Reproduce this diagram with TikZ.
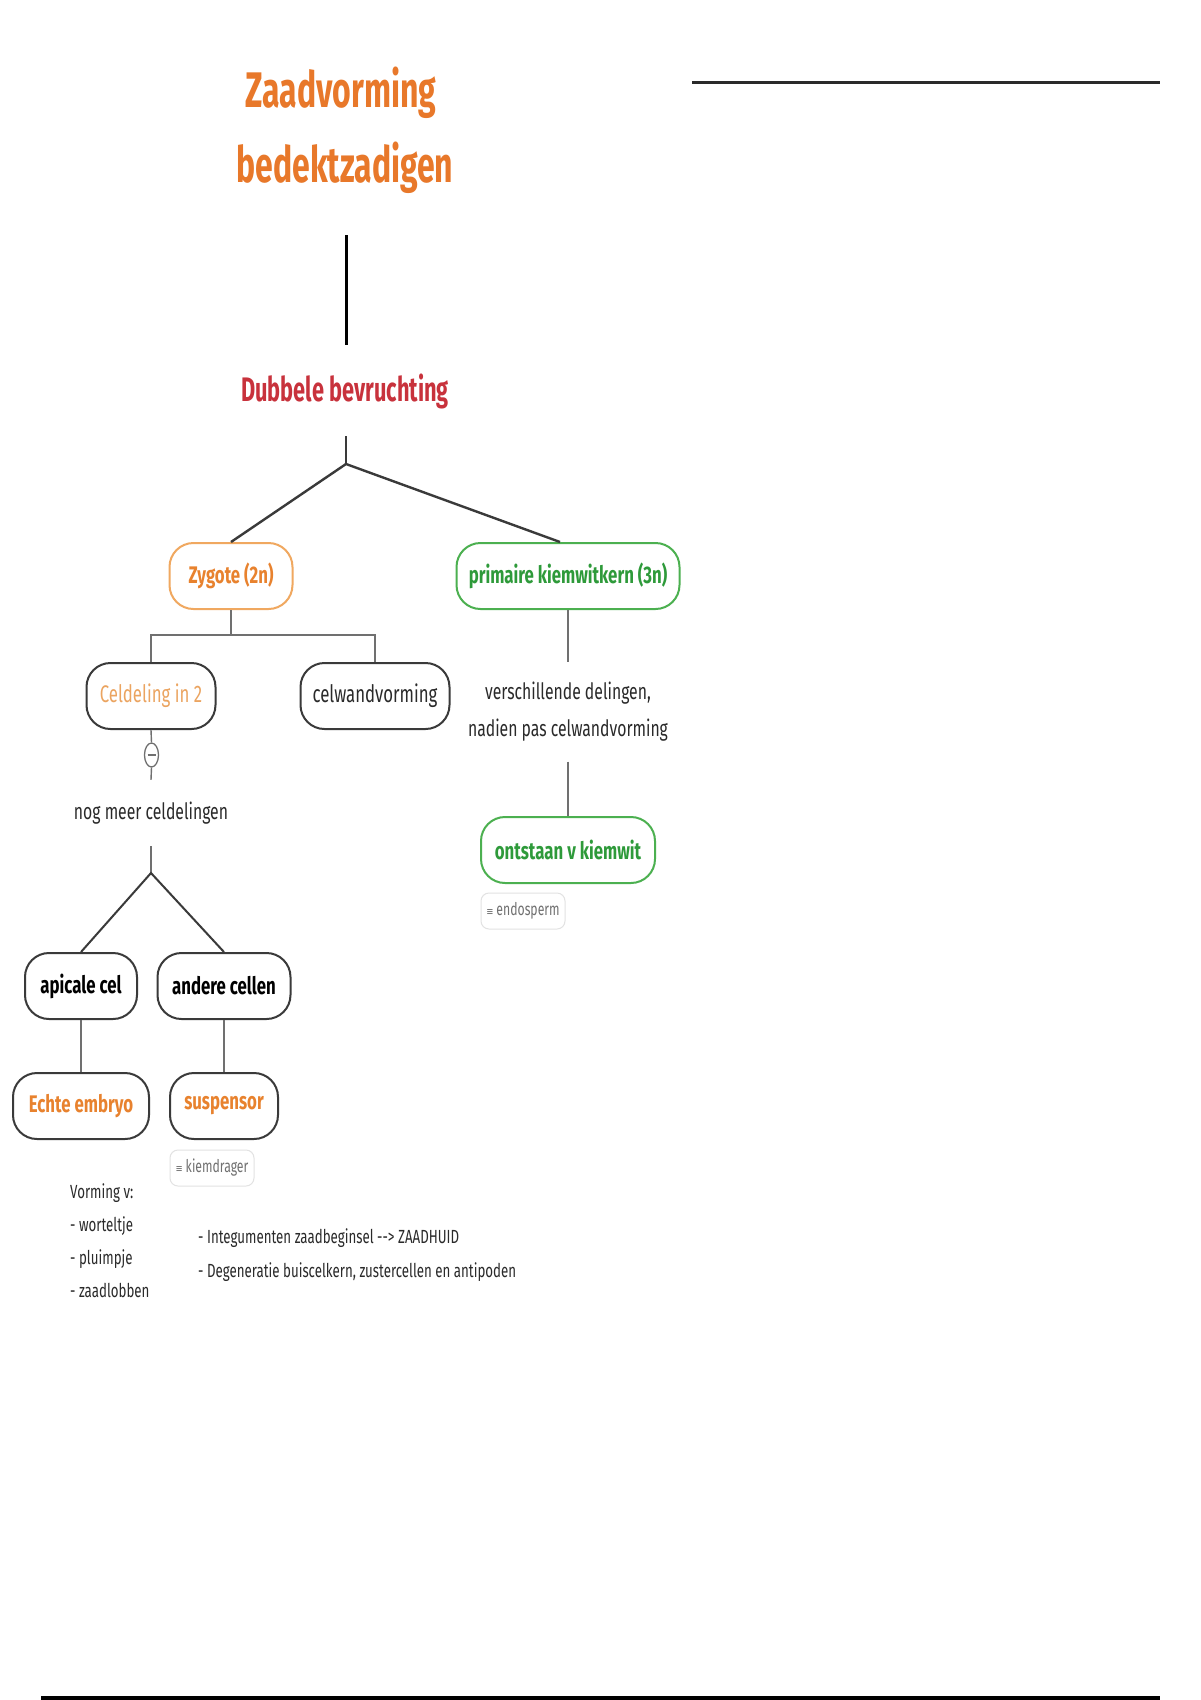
\documentclass[tikz,border=0pt]{standalone}
\usepackage{fontspec}
\setmainfont{Fira Sans}[FakeStretch=0.7]
\newfontfamily\ttlfont{Fira Sans}[FakeStretch=0.64]
\newfontfamily\djv{DejaVu Sans}[FakeStretch=0.78]
\usetikzlibrary{calc,shapes.geometric}
\definecolor{ttlorange}{HTML}{E8782A}
\definecolor{dubred}{HTML}{C8323C}
\definecolor{orgtext}{HTML}{E8822E}
\definecolor{orgborder}{HTML}{F0A860}
\definecolor{lightorg}{HTML}{EBA460}
\definecolor{grntext}{HTML}{2E9A3A}
\definecolor{grnborder}{HTML}{4CB050}
\definecolor{boxgray}{HTML}{3A3A3A}
\definecolor{linegray}{HTML}{707070}
\definecolor{txtdark}{HTML}{2A2A2A}
\definecolor{notegray}{HTML}{707070}
\definecolor{noteborder}{HTML}{E2E2E2}
\begin{document}
\begin{tikzpicture}[x=1pt,y=-1pt,
  box/.style={draw=boxgray, line width=2pt, rounded corners=24pt, minimum height=66pt, inner sep=0pt, text=txtdark, font=\fontsize{24}{28}\selectfont},
  orgbox/.style={box, draw=orgborder, text=orgtext, font=\fontsize{24}{28}\selectfont\bfseries},
  grnbox/.style={box, draw=grnborder, text=grntext, font=\fontsize{24}{28}\selectfont\bfseries},
  boldbox/.style={box, font=\fontsize{24}{28}\selectfont\bfseries},
  notebox/.style={draw=noteborder, line width=1pt, rounded corners=8pt, minimum height=36pt, inner sep=0pt, text=notegray, font=\fontsize{17.5}{20}\selectfont},
  plain/.style={inner sep=0pt, text=txtdark, align=center, font=\fontsize{22.5}{37}\selectfont},
  conn/.style={draw=boxgray, line width=2pt},
  thin/.style={draw=linegray, line width=1.4pt}
]
\useasboundingbox (0,0) rectangle (1200,1700);
\fill[white] (0,0) rectangle (1200,1700);

% decorative lines
\draw[line width=3pt, draw=txtdark] (692,82) -- (1160,82);
\draw[line width=4pt, draw=black] (41,1698) -- (1160,1698);

% title
\node[anchor=base, text=ttlorange, inner sep=0pt, font=\ttlfont\fontsize{50}{56}\selectfont\bfseries] (title1) at (341,107) {Zaadvorming};
\node[anchor=base, text=ttlorange, inner sep=0pt, font=\ttlfont\fontsize{50}{56}\selectfont\bfseries] (title2) at (345,182) {bedektzadigen};
\coordinate (t1) at (346,235);
\coordinate (t2) at (346,345);
\draw[line width=3pt, draw=black] (t1) -- (t2);

\node[anchor=base, text=dubred, inner sep=0pt, font=\ttlfont\fontsize{34}{38}\selectfont\bfseries] (dub) at (345,401) {Dubbele bevruchting};
\coordinate (d1) at (346,436);
\coordinate (j1) at (346,464);

% level 2
\node[orgbox, minimum width=123pt] (zyg) at (231,576) {Zygote (2n)};
\node[grnbox, minimum width=223pt] (prim) at (568,576) {primaire kiemwitkern (3n)};
\draw[conn] (d1) -- (j1);
\draw[conn, line width=2.4pt] (zyg.north) -- (j1) -- ($(prim.north)+(-8,0)$);

% zygote children
\node[box, minimum width=129pt, text=lightorg] (celd) at (151,696) {Celdeling in 2};
\node[box, minimum width=149pt] (celw) at (375,696) {celwandvorming};
\coordinate (j2) at (231,635);
\draw[thin] (zyg.south) -- (j2);
\draw[thin] (celd.north) |- (j2) -| (celw.north);

% collapse toggle
\node[ellipse, draw=linegray, line width=1.3pt, minimum width=14pt, minimum height=24pt, inner sep=0pt, fill=white] (tog) at (151.5,755) {};
\draw[draw=linegray, line width=1.6pt] ($(tog.center)+(-4,0)$) -- ($(tog.center)+(4,0)$);
\draw[thin] (celd.south) -- (tog.north);
\node[plain, minimum height=66pt] (nog) at (151,813) {nog meer celdelingen};
\draw[thin] (tog.south) -- (nog.north);

\coordinate (j3) at (151,873);
\node[boldbox, minimum width=112pt, text=black] (api) at (81,986) {apicale cel};
\node[boldbox, minimum width=133pt, text=black] (andr) at (224,986) {andere cellen};
\draw[thin] (nog.south) -- (j3);
\draw[conn] (api.north) -- (j3) -- (andr.north);

\node[boldbox, minimum width=136pt, text=orgtext] (echte) at (81,1106) {Echte embryo};
\node[boldbox, minimum width=108pt, text=orgtext] (susp) at (224,1106) {suspensor};
\draw[thin] (api.south) -- (echte.north);
\draw[thin] (andr.south) -- (susp.north);

\node[notebox, minimum width=84pt] (kiem) at (212,1168) {{\djv\fontsize{11}{12}\selectfont ≡}\,kiemdrager};

% primaire branch
\node[plain, minimum height=99pt] (vers) at (568,712) {verschillende delingen,\\nadien pas celwandvorming};
\node[grnbox, minimum width=174pt] (ont) at (568,850) {ontstaan v kiemwit};
\draw[thin] (prim.south) -- (vers.north);
\draw[thin] (vers.south) -- (ont.north);
\node[notebox, minimum width=84pt] (endo) at (523,911) {{\djv\fontsize{11}{12}\selectfont ≡}\,endosperm};

% free texts
\node[anchor=north west, inner sep=0pt, align=left, text=txtdark, font=\fontsize{19}{33.3}\selectfont] (vorm) at (70,1183) {Vorming v:\\- worteltje\\- pluimpje\\- zaadlobben};
\node[anchor=north west, inner sep=0pt, align=left, text=txtdark, font=\fontsize{19}{34.5}\selectfont] (integ) at (198,1228) {- Integumenten zaadbeginsel -{}-{}> ZAADHUID\\- Degeneratie buiscelkern, zustercellen en antipoden};
\end{tikzpicture}
\end{document}
